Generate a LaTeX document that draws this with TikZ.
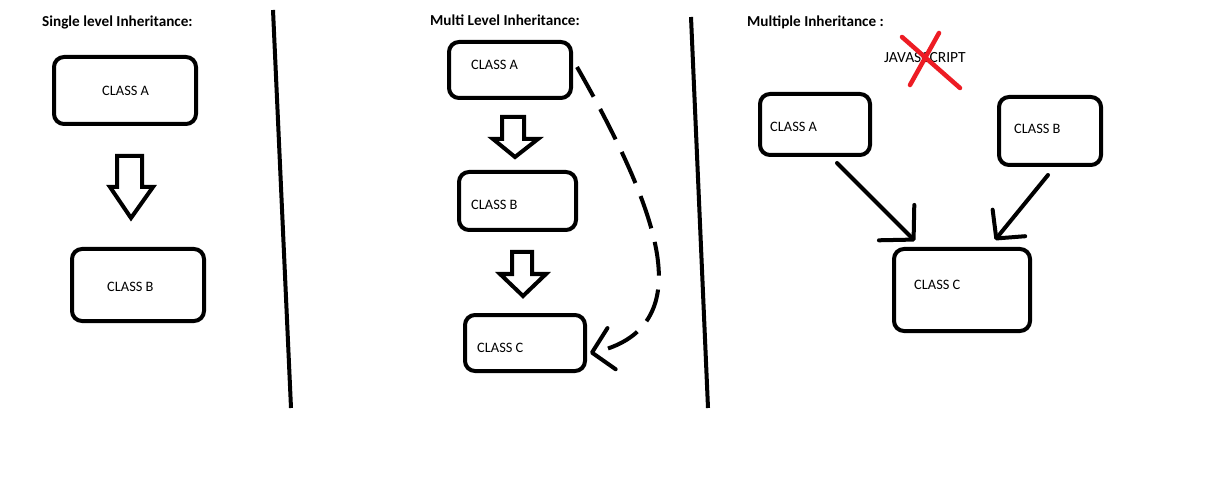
\documentclass[tikz,border=0pt]{standalone}
\usepackage{fontspec}
\setmainfont{Carlito}
\usetikzlibrary{arrows.meta,calc}
\definecolor{paintred}{RGB}{237,28,36}
\tikzset{
  cls/.style={draw=black, line width=4pt, rounded corners=10pt, inner sep=0pt},
  lbl/.style={font=\fontsize{14.4}{16}\selectfont, inner sep=0pt, anchor=west},
  ttl/.style={font=\bfseries\fontsize{15.2}{17}\selectfont, inner sep=0pt, anchor=west},
  blockarrow/.style={draw=black, line width=4pt, line join=miter, fill=white},
  divider/.style={draw=black, line width=4pt},
  conn/.style={draw=black, line width=4pt, line cap=round},
  barbA/.style={-{Straight Barb[length=24pt,width=50pt,line width=4pt,round]}},
  barbB/.style={-{Straight Barb[length=20pt,width=42pt,line width=4pt,round]}},
  cross/.style={draw=paintred, line width=4.5pt, line cap=round}
}
\begin{document}
\begin{tikzpicture}[x=1pt,y=-1pt]
\useasboundingbox[fill=white] (0,0) rectangle (1220,486);

% ---------- Single level ----------
\node[ttl] (t1) at (42,22) {Single level Inheritance:};
\node[cls, minimum width=142pt, minimum height=67pt] (sA) at (125,90.5) {};
\node[lbl] (sAt) at (102,91) {CLASS A};
\node[cls, minimum width=132pt, minimum height=72pt] (sB) at (138,285) {};
\node[lbl] (sBt) at (107,287) {CLASS B};
\draw[blockarrow] (117,156) -- (142,156) -- (142,187) -- (153,187) -- (131,218) -- (110,187) -- (117,187) -- cycle;

% divider 1
\draw[divider] (273,10) -- (291,408);

% ---------- Multi level ----------
\node[ttl] (t2) at (430,20) {Multi Level Inheritance:};
\node[cls, minimum width=122pt, minimum height=56pt] (mA) at (510,70) {};
\node[lbl] (mAt) at (471,65) {CLASS A};
\node[cls, minimum width=117pt, minimum height=58pt] (mB) at (517.5,201) {};
\node[lbl] (mBt) at (471,205) {CLASS B};
\node[cls, minimum width=120pt, minimum height=56pt] (mC) at (525,343) {};
\node[lbl] (mCt) at (477,348) {CLASS C};
\draw[blockarrow] (502,117) -- (524,117) -- (524,139) -- (538,139) -- (515,157) -- (493,139) -- (502,139) -- cycle;
\draw[blockarrow] (512,252) -- (532,252) -- (532,274) -- (546,274) -- (523,296) -- (500,274) -- (512,274) -- cycle;
\coordinate (dS) at ($(mA.east)+(4,-3)$);
\coordinate (dE) at ($(mC.east)+(3,10)$);
\draw[conn, line cap=butt, dash pattern=on 34pt off 14pt, barbB]
  (dS) .. controls (630,160) and (665,240) .. (658,290)
       .. controls (652,335) and (615,348) .. (dE);

% divider 2
\draw[divider] (691,17) -- (708,408);

% ---------- Multiple ----------
\node[ttl] (t3) at (747,22) {Multiple Inheritance :};
\node[lbl, font=\fontsize{15.5}{17}\selectfont] (js) at (884,58) {JAVASCCRIPT};
\draw[cross] (902,37) -- (960,88);
\draw[cross] (939,33) -- (910,85);
\node[cls, minimum width=110pt, minimum height=61pt] (xA) at (815,124.5) {};
\node[lbl] (xAt) at (770,127) {CLASS A};
\node[cls, minimum width=102pt, minimum height=68pt] (xB) at (1050,131) {};
\node[lbl] (xBt) at (1014,129) {CLASS B};
\node[cls, minimum width=136pt, minimum height=82pt] (xC) at (962,290) {};
\node[lbl] (xCt) at (914,285) {CLASS C};
\draw[conn, barbA] ($(xA.south)+(22,6)$) -- ($(xC.north)+(-47,-6)$);
\draw[conn, barbB] ($(xB.south)+(-2,8)$) -- ($(xC.north)+(33,-7)$);
\end{tikzpicture}
\end{document}
